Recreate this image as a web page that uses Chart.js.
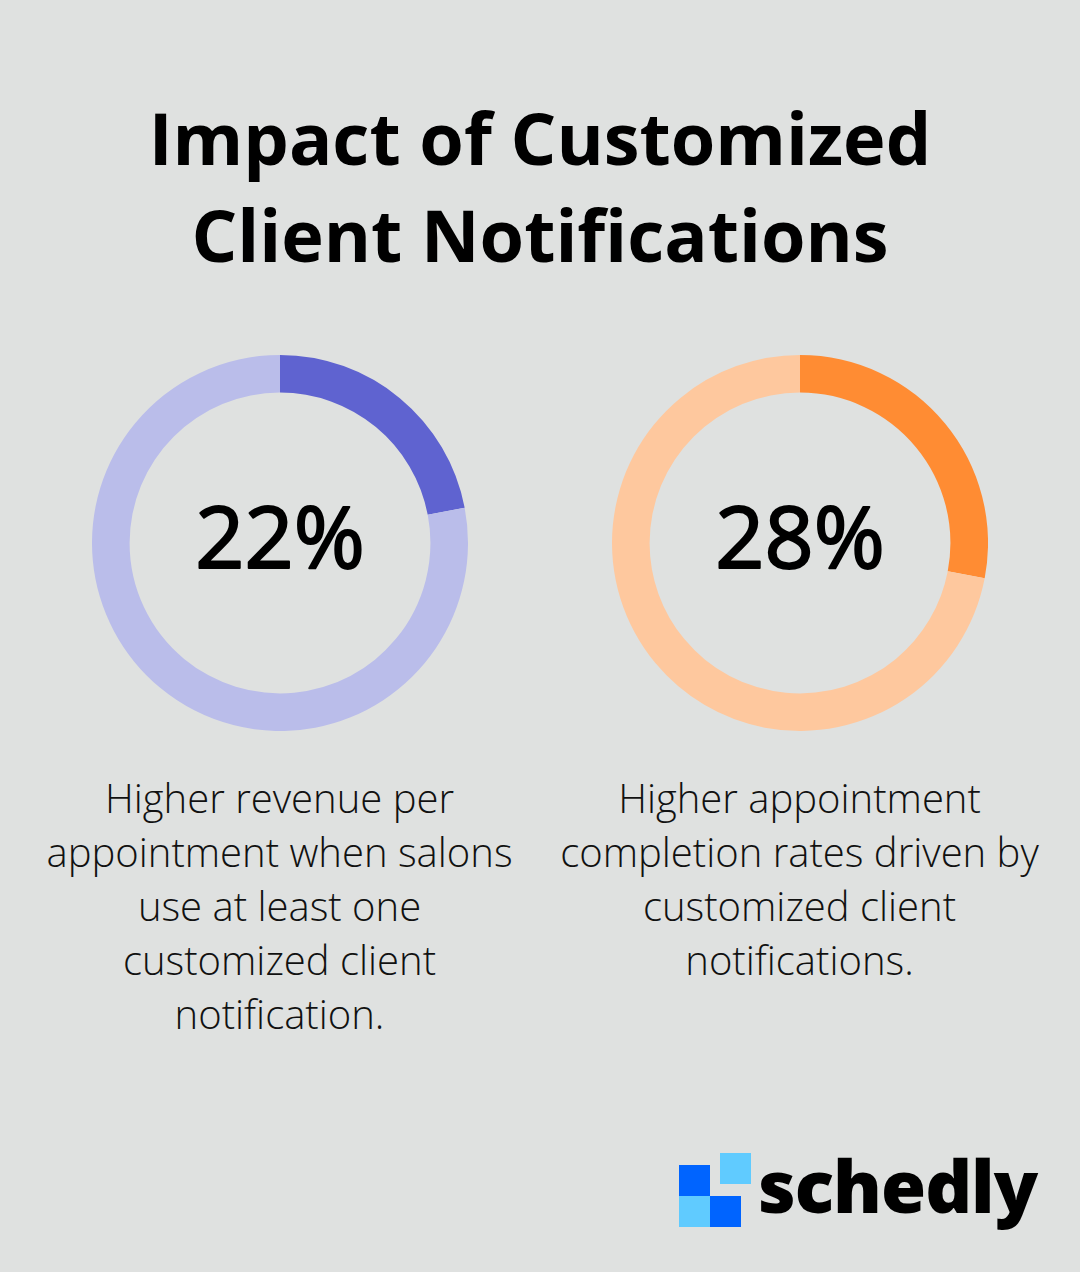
<!DOCTYPE html>
<html>
<head>
<meta charset="utf-8">
<script src="https://cdn.jsdelivr.net/npm/chart.js@4"></script>
<style>
    body { margin: 0; background: #dfe1e0; font-family: "Open Sans", sans-serif; }
    #page { position: relative; width: 1080px; height: 1272px; overflow: hidden; }
    h1 { position: absolute; left: 0; top: 89px; width: 1080px; margin: 0; text-align: center;
         font-size: 72px; font-weight: 700; line-height: 97px; color: #000; }
    .ring { position: absolute; top: 355px; width: 376px; height: 376px; }
    .caption { position: absolute; top: 771px; width: 485px; text-align: center;
               font-size: 40px; font-weight: 300; line-height: 54px; color: #111; }
    .sq { position: absolute; width: 31px; height: 31px; }
    #brand { position: absolute; left: 758px; top: 1135px; font-size: 73px; font-weight: 800;
             letter-spacing: -1px; color: #000; }
</style>
</head>
<body>
<div id="page">
    <h1>Impact of Customized<br>Client Notifications</h1>
    <div class="ring" style="left:92px"><canvas id="ring-0" width="376" height="376"></canvas></div>
    <div class="ring" style="left:612px"><canvas id="ring-1" width="376" height="376"></canvas></div>
    <div class="caption" style="left:37px">Higher revenue per appointment when salons use at least one customized client notification.</div>
    <div class="caption" style="left:557px">Higher appointment completion rates driven by customized client notifications.</div>
    <div class="sq" style="left:679px;top:1165px;background:#0064ff"></div>
    <div class="sq" style="left:720px;top:1153px;background:#60cbff"></div>
    <div class="sq" style="left:679px;top:1196px;background:#60cbff"></div>
    <div class="sq" style="left:710px;top:1196px;background:#0064ff"></div>
    <div id="brand">schedly</div>
</div>
<script>
const percentages = [22, 28];
const strongColors = ['#5f63d0', '#ff8c33'];
const lightColors = ['#babdea', '#fec89e'];

// big number in the hole, a bit heavier than regular
const centerText = {
    id: 'centerText',
    afterDraw(chart) {
        const { ctx, chartArea } = chart;
        const x = (chartArea.left + chartArea.right) / 2;
        const y = (chartArea.top + chartArea.bottom) / 2;
        const text = chart.options.plugins.centerText.text;
        ctx.save();
        ctx.font = '400 86px "Open Sans"';
        ctx.fillStyle = '#000';
        ctx.strokeStyle = '#000';
        ctx.lineWidth = 2;
        ctx.lineJoin = 'round';
        ctx.textAlign = 'center';
        ctx.textBaseline = 'middle';
        ctx.fillText(text, x, y);
        ctx.strokeText(text, x, y);
        ctx.restore();
    }
};

percentages.forEach((value, i) => {
    const ctx = document.getElementById('ring-' + i).getContext('2d');
    new Chart(ctx, {
        type: 'doughnut',
        data: {
            labels: ['Share', 'Rest'],
            datasets: [{
                data: [value, 100 - value],
                backgroundColor: [strongColors[i], lightColors[i]],
                borderWidth: 0
            }]
        },
        options: {
            responsive: false,
            animation: false,
            cutout: '80%',
            layout: { padding: 0 },
            plugins: {
                legend: { display: false },
                tooltip: { enabled: false },
                centerText: { text: value + '%' }
            }
        },
        plugins: [centerText]
    });
});
</script>
</body>
</html>
